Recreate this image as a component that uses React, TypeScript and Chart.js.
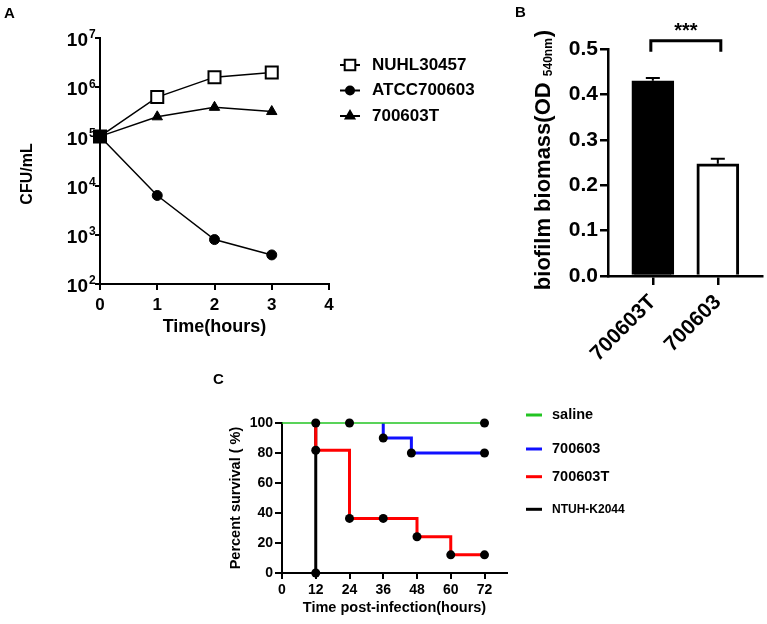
import React, { useEffect, useRef } from 'react';
import { Chart, registerables } from 'chart.js';
import { drawPoint } from 'chart.js/helpers';

Chart.register(...registerables);

const FONT = "'Liberation Sans', Arial, Helvetica, sans-serif";
const bold = (size: number) => ({ family: FONT, size, weight: 'bold' as const });

// ---------------- Panel A : growth curves ----------------
const panelALetter = 'A';
const hours = [0, 1, 2, 3];
const hourTicks = [0, 1, 2, 3, 4];
const cfuNUHL30457 = [1.0e5, 6.3e5, 1.6e6, 2.0e6];
const cfuATCC700603 = [1.0e5, 6.3e3, 8.0e2, 3.9e2];
const cfu700603T = [1.0e5, 2.5e5, 3.9e5, 3.2e5];
const seriesA = ['NUHL30457', 'ATCC700603', '700603T'];
const logExponents = [2, 3, 4, 5, 6, 7];
const titleAX = 'Time(hours)';
const titleAY = 'CFU/mL';

// ---------------- Panel B : biofilm ----------------
const panelBLetter = 'B';
const biofilmStrains = ['700603T', '700603'];
const biofilmOD = [0.43, 0.247];
const biofilmSEM = [0.006, 0.011];
const odTicks = [0, 0.1, 0.2, 0.3, 0.4, 0.5];
const sigLabel = '***';
const sigLevel = 0.518;
const sigDrop = 0.024;
const titleBMain = 'biofilm biomass(OD ';
const titleBSub = '540nm';
const titleBEnd = ')';

// ---------------- Panel C : survival ----------------
const panelCLetter = 'C';
const survTimeTicks = [0, 12, 24, 36, 48, 60, 72];
const survPercentTicks = [0, 20, 40, 60, 80, 100];
const survSeries = ['saline', '700603', '700603T', 'NTUH-K2044'];
const salineTime = [0, 12, 24, 72];
const salineSurv = [100, 100, 100, 100];
const salineMark = [0, 1, 1, 1];
const s700603Time = [36, 36, 46, 72];
const s700603Surv = [100, 90, 80, 80];
const s700603Mark = [0, 1, 1, 1];
const s700603TTime = [12, 12, 24, 36, 48, 60, 72];
const s700603TSurv = [100, 81.8, 36.4, 36.4, 24.2, 12.1, 12.1];
const s700603TMark = [0, 1, 1, 1, 1, 1, 1];
const ntuhTime = [12, 12];
const ntuhSurv = [100, 0];
const ntuhMark = [0, 1];
const titleCX = 'Time post-infection(hours)';
const titleCY = 'Percent survival ( %)';

const axisStyle = (lw: number, tl: number) => ({
  grid: { display: true, drawOnChartArea: false, drawTicks: true, tickLength: tl, color: '#000', lineWidth: lw, offset: false },
  border: { display: true, color: '#000', width: lw },
});

const xy = (xs: number[], ys: number[]) => xs.map((x, i) => ({ x, y: ys[i] }));

// ---------- Panel A ----------
const panelAPlugin = {
  id: 'panelA',
  afterDraw(chart: any) {
    const { ctx } = chart;
    const ys = chart.scales.y;
    ctx.save();
    ctx.fillStyle = '#000';
    ctx.textBaseline = 'middle';
    ctx.font = `bold 15px ${FONT}`;
    ctx.textAlign = 'left';
    ctx.fillText(panelALetter, 4, 14);
    const xr = chart.chartArea.left - 12;
    logExponents.forEach((e) => {
      const py = ys.getPixelForValue(Math.pow(10, e));
      ctx.font = `bold 19px ${FONT}`;
      ctx.textAlign = 'right';
      ctx.fillText('10', xr, py + 3);
      ctx.font = `bold 12px ${FONT}`;
      ctx.textAlign = 'left';
      ctx.fillText(String(e), xr + 1, py - 3);
    });
    // y title
    ctx.save();
    ctx.translate(28, 174);
    ctx.rotate(-Math.PI / 2);
    ctx.font = `bold 16px ${FONT}`;
    ctx.textAlign = 'center';
    ctx.fillText(titleAY, 0, 0);
    ctx.restore();
    // legend
    chart.data.datasets.forEach((ds: any, i: number) => {
      const y = 65 + i * 25.5;
      ctx.strokeStyle = '#000';
      ctx.lineWidth = 2;
      ctx.beginPath();
      ctx.moveTo(340, y);
      ctx.lineTo(360, y);
      ctx.stroke();
      const fills = ds.pointBackgroundColor;
      ctx.fillStyle = Array.isArray(fills) ? fills[fills.length - 1] : fills;
      drawPoint(ctx, { pointStyle: ds.pointStyle, radius: ds.pointRadius - 1, borderWidth: 2, rotation: 0 } as any, 350, y);
      ctx.fillStyle = '#000';
      ctx.font = `bold 17px ${FONT}`;
      ctx.textAlign = 'left';
      ctx.fillText(ds.label, 372, y);
    });
    ctx.restore();
  },
};

const configA = () => ({
  type: 'line' as const,
  data: {
    datasets: [
      {
        label: seriesA[0], data: xy(hours, cfuNUHL30457), order: 3, clip: false,
        borderColor: '#000', borderWidth: 1.5, pointStyle: 'rect', pointRadius: 8.5,
        pointBackgroundColor: ['#000', '#fff', '#fff', '#fff'], pointBorderColor: '#000', pointBorderWidth: 2,
      },
      {
        label: seriesA[1], data: xy(hours, cfuATCC700603), order: 1, clip: false,
        borderColor: '#000', borderWidth: 1.5, pointStyle: 'circle', pointRadius: 5,
        pointBackgroundColor: '#000', pointBorderColor: '#000', pointBorderWidth: 1,
      },
      {
        label: seriesA[2], data: xy(hours, cfu700603T), order: 2, clip: false,
        borderColor: '#000', borderWidth: 1.5, pointStyle: 'triangle', pointRadius: 6,
        pointBackgroundColor: '#000', pointBorderColor: '#000', pointBorderWidth: 1,
      },
    ],
  },
  options: {
    responsive: false,
    animation: false,
    layout: { padding: { left: 0, top: 38, right: 151, bottom: 0 } },
    plugins: { legend: { display: false }, tooltip: { enabled: false } },
    scales: {
      x: {
        type: 'linear', min: 0, max: 4,
        afterBuildTicks: (s: any) => { s.ticks = hourTicks.map((v) => ({ value: v })); },
        afterFit: (s: any) => { s.height = 61; },
        ticks: { font: bold(17), color: '#000', padding: 5, callback: (v: any) => String(v) },
        title: { display: true, text: titleAX, font: bold(18), color: '#000', padding: { top: 0, bottom: 7 } },
        ...axisStyle(2, 6),
      },
      y: {
        type: 'logarithmic', min: 100, max: 1e7,
        afterBuildTicks: (s: any) => { s.ticks = logExponents.map((e) => ({ value: Math.pow(10, e) })); },
        afterFit: (s: any) => { s.width = 100; },
        ticks: { display: false },
        title: { display: false },
        ...axisStyle(2, 5),
      },
    },
  },
  plugins: [panelAPlugin],
});

// ---------- Panel B ----------
const panelBPlugin = {
  id: 'panelB',
  afterDatasetsDraw(chart: any) {
    const { ctx } = chart;
    const ys = chart.scales.y;
    const meta = chart.getDatasetMeta(0);
    ctx.save();
    ctx.strokeStyle = '#000';
    ctx.lineWidth = 2;
    meta.data.forEach((bar: any, i: number) => {
      const y0 = ys.getPixelForValue(biofilmOD[i]);
      const y1 = ys.getPixelForValue(biofilmOD[i] + biofilmSEM[i]);
      ctx.beginPath();
      ctx.moveTo(bar.x, y0);
      ctx.lineTo(bar.x, y1);
      ctx.moveTo(bar.x - 7, y1);
      ctx.lineTo(bar.x + 7, y1);
      ctx.stroke();
    });
    // significance bracket
    const xa = meta.data[0].x - 2;
    const xb = meta.data[1].x + 3;
    const yt = ys.getPixelForValue(sigLevel);
    const yl = ys.getPixelForValue(sigLevel - sigDrop);
    ctx.lineWidth = 3;
    ctx.beginPath();
    ctx.moveTo(xa, yl);
    ctx.lineTo(xa, yt);
    ctx.lineTo(xb, yt);
    ctx.lineTo(xb, yl);
    ctx.stroke();
    ctx.fillStyle = '#000';
    ctx.font = `bold 20px ${FONT}`;
    ctx.textAlign = 'center';
    ctx.textBaseline = 'alphabetic';
    ctx.fillText(sigLabel, (xa + xb) / 2, yt - 4);
    ctx.restore();
  },
  afterDraw(chart: any) {
    const { ctx, chartArea } = chart;
    ctx.save();
    ctx.fillStyle = '#000';
    ctx.font = `bold 15px ${FONT}`;
    ctx.textAlign = 'left';
    ctx.textBaseline = 'middle';
    ctx.fillText(panelBLetter, 35, 13);
    // y title with subscript
    ctx.translate(70, (chartArea.top + chartArea.bottom) / 2 - 2);
    ctx.rotate(-Math.PI / 2);
    ctx.textBaseline = 'alphabetic';
    ctx.font = `bold 22px ${FONT}`;
    const w1 = ctx.measureText(titleBMain).width;
    const w3 = ctx.measureText(titleBEnd).width;
    ctx.font = `bold 12px ${FONT}`;
    const w2 = ctx.measureText(titleBSub).width;
    const x0 = -(w1 + w2 + w3) / 2;
    ctx.font = `bold 22px ${FONT}`;
    ctx.fillText(titleBMain, x0, 0);
    ctx.fillText(titleBEnd, x0 + w1 + w2 + 1, 0);
    ctx.font = `bold 12px ${FONT}`;
    ctx.fillText(titleBSub, x0 + w1, 2);
    ctx.restore();
  },
};

const configB = () => ({
  type: 'bar' as const,
  data: {
    datasets: [
      {
        label: 'biofilm',
        data: biofilmOD.map((v, i) => ({ x: i + 1, y: v })),
        backgroundColor: ['#000', '#fff'],
        borderColor: '#000',
        borderWidth: 3,
        barThickness: 42,
      },
    ],
  },
  options: {
    responsive: false,
    animation: false,
    layout: { padding: { left: 0, top: 49, right: 5, bottom: 0 } },
    plugins: { legend: { display: false }, tooltip: { enabled: false } },
    scales: {
      x: {
        type: 'linear', min: 0.31, max: 2.68, offset: false,
        afterBuildTicks: (s: any) => { s.ticks = biofilmStrains.map((_, i) => ({ value: i + 1 })); },
        afterFit: (s: any) => { s.height = 89; },
        ticks: {
          font: bold(21), color: '#000', padding: 5, minRotation: 45, maxRotation: 45,
          callback: (_v: any, i: number) => biofilmStrains[i],
        },
        ...axisStyle(2.5, 9),
      },
      y: {
        type: 'linear', min: 0, max: 0.5,
        afterBuildTicks: (s: any) => { s.ticks = odTicks.map((v) => ({ value: v })); },
        afterFit: (s: any) => { s.width = 128; },
        ticks: { font: bold(21), color: '#000', padding: 2, callback: (v: any) => Number(v).toFixed(1) },
        ...axisStyle(2.5, 8),
      },
    },
  },
  plugins: [panelBPlugin],
});

// ---------- Panel C ----------
const panelCPlugin = {
  id: 'panelC',
  afterDraw(chart: any) {
    const { ctx } = chart;
    ctx.save();
    ctx.fillStyle = '#000';
    ctx.textBaseline = 'middle';
    ctx.textAlign = 'left';
    ctx.font = `bold 15px ${FONT}`;
    ctx.fillText(panelCLetter, 13, 10);
    const rows = [45, 79, 106.7, 139.3];
    chart.data.datasets.forEach((ds: any, i: number) => {
      const y = rows[i];
      ctx.strokeStyle = ds.borderColor;
      ctx.lineWidth = 3;
      ctx.beginPath();
      ctx.moveTo(326, y);
      ctx.lineTo(342, y);
      ctx.stroke();
      ctx.fillStyle = '#000';
      ctx.font = `bold ${i === 3 ? 12 : 14.5}px ${FONT}`;
      ctx.fillText(ds.label, 352, y);
    });
    ctx.restore();
  },
};

const survDataset = (label: string, t: number[], s: number[], m: number[], color: string, lw: number) => ({
  label,
  data: xy(t, s),
  borderColor: color,
  borderWidth: lw,
  stepped: 'before',
  clip: false,
  pointRadius: m.map((v) => (v ? 4.5 : 0)),
  pointBackgroundColor: '#000',
  pointBorderColor: '#000',
  pointBorderWidth: 0,
});

const configC = () => ({
  type: 'line' as const,
  data: {
    datasets: [
      survDataset(survSeries[0], salineTime, salineSurv, salineMark, '#22c422', 1.5),
      survDataset(survSeries[1], s700603Time, s700603Surv, s700603Mark, '#1010ff', 3),
      survDataset(survSeries[2], s700603TTime, s700603TSurv, s700603TMark, '#ff0000', 3),
      survDataset(survSeries[3], ntuhTime, ntuhSurv, ntuhMark, '#000000', 3),
    ],
  },
  options: {
    responsive: false,
    animation: false,
    layout: { padding: { left: 0, top: 53, right: 260, bottom: 0 } },
    plugins: { legend: { display: false }, tooltip: { enabled: false } },
    scales: {
      x: {
        type: 'linear', min: 0, max: 80,
        afterBuildTicks: (s: any) => { s.ticks = survTimeTicks.map((v) => ({ value: v })); },
        afterFit: (s: any) => { s.height = 51; },
        ticks: { font: bold(14), color: '#000', padding: 3, callback: (v: any) => String(v) },
        title: { display: true, text: titleCX, font: bold(14.5), color: '#000', padding: { top: 0, bottom: 7 } },
        ...axisStyle(2, 6),
      },
      y: {
        type: 'linear', min: 0, max: 100,
        afterBuildTicks: (s: any) => { s.ticks = survPercentTicks.map((v) => ({ value: v })); },
        afterFit: (s: any) => { s.width = 82; },
        ticks: { font: bold(14), color: '#000', padding: 2, callback: (v: any) => String(v) },
        title: { display: true, text: titleCY, font: bold(14.5), color: '#000', padding: { top: 27, bottom: 0 } },
        ...axisStyle(2, 7),
      },
    },
  },
  plugins: [panelCPlugin],
});

function ChartCanvas({ make, left, top, width, height }: any) {
  const ref = useRef<HTMLCanvasElement>(null);
  useEffect(() => {
    const chart = new Chart(ref.current as HTMLCanvasElement, make() as any);
    return () => chart.destroy();
  }, []);
  return (
    <canvas
      ref={ref}
      width={width}
      height={height}
      style={{ position: 'absolute', left, top, width, height }}
    />
  );
}

export default function App() {
  return (
    <div style={{ position: 'absolute', left: 0, top: 0, width: 767, height: 624, background: '#fff', overflow: 'hidden' }}>
      <ChartCanvas make={configA} left={0} top={0} width={480} height={345} />
      <ChartCanvas make={configB} left={480} top={0} width={287} height={365} />
      <ChartCanvas make={configC} left={200} top={370} width={567} height={254} />
    </div>
  );
}
